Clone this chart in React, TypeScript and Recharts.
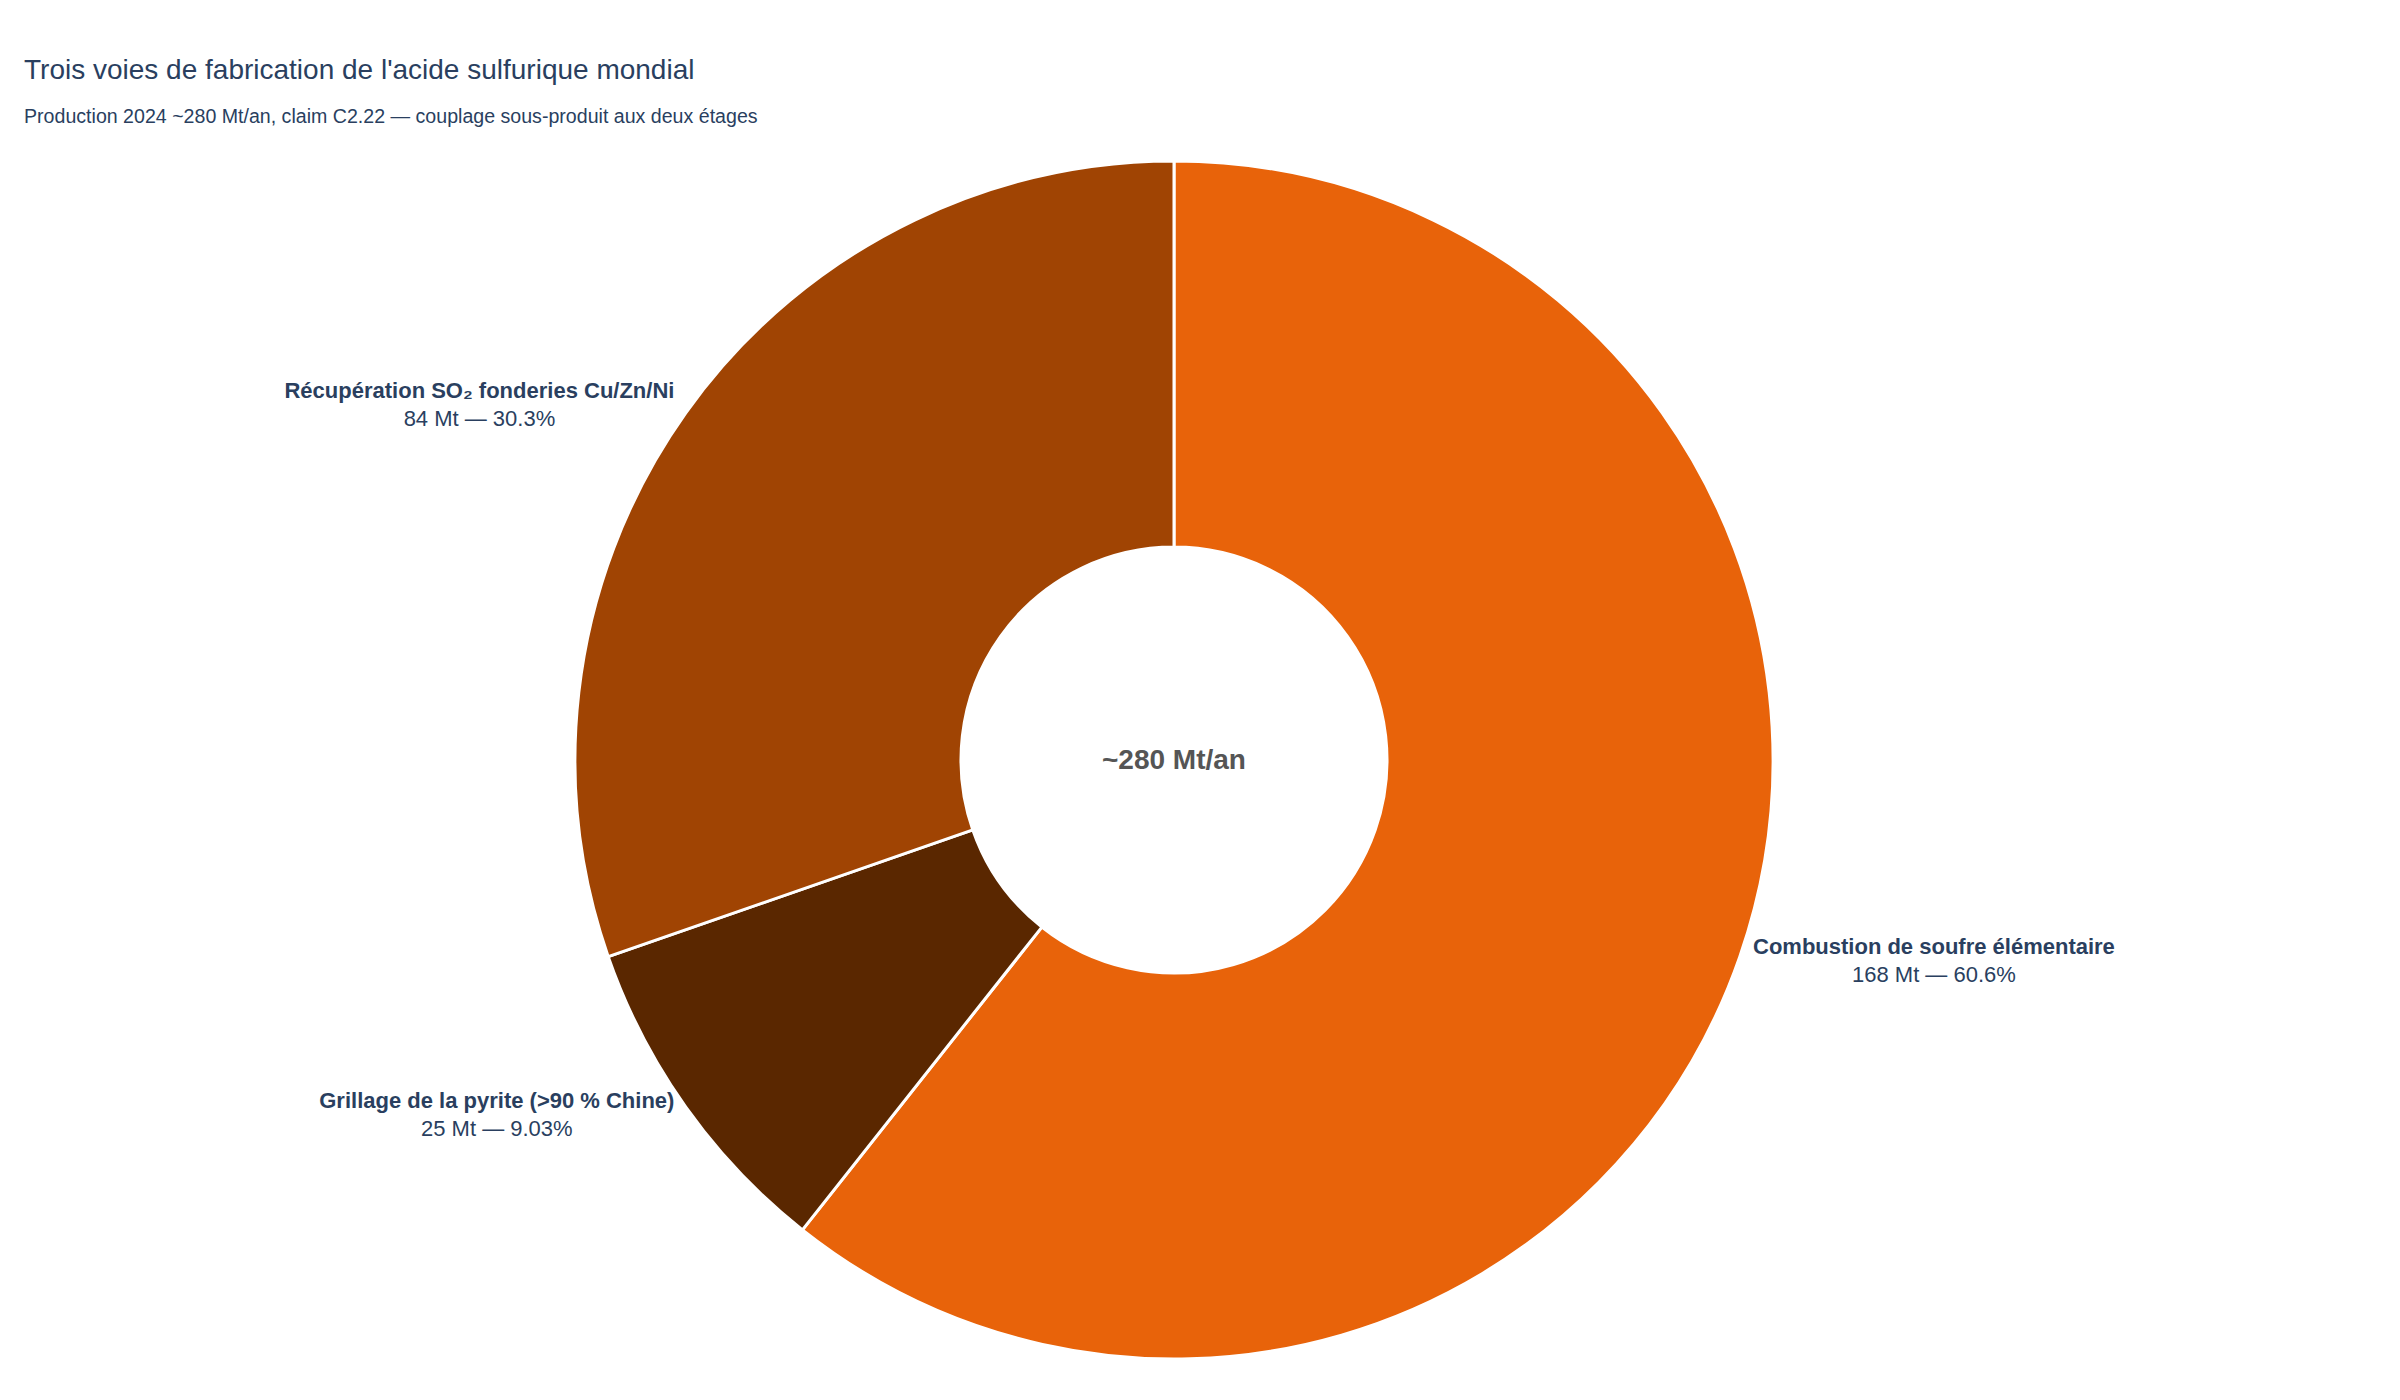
import { Pie, PieChart, Cell } from "recharts";

const routes = [
  "Combustion de soufre élémentaire",
  "Grillage de la pyrite (>90 % Chine)",
  "Récupération SO₂ fonderies Cu/Zn/Ni",
];
const volumesMt = [168, 25, 84];
const sliceColors = ["#e8630a", "#5a2700", "#a04403"];
const centerText = "~280 Mt/an";

const FONT = "'Liberation Sans', Arial, Helvetica, sans-serif";
const INK = "#2a3f5f";
const LABEL_SIZE = 22;
const PIE_CX = 1174;
const PIE_CY = 760;

const data = routes.map((name, i) => ({ name, value: volumesMt[i] }));
const total = volumesMt.reduce((a, b) => a + b, 0);

const RAD = Math.PI / 180;

let ctx: CanvasRenderingContext2D | null = null;
function measure(text: string, weight: string) {
  if (!ctx) ctx = document.createElement("canvas").getContext("2d");
  if (!ctx) return text.length * LABEL_SIZE * 0.55;
  ctx.font = `${weight} ${LABEL_SIZE}px ${FONT}`;
  return ctx.measureText(text).width;
}

function SliceLabel(props: any) {
  const { cx, cy, midAngle, outerRadius, name, value } = props;
  const r = outerRadius + 14;
  const cos = Math.cos(-midAngle * RAD);
  const sin = Math.sin(-midAngle * RAD);
  const edgeX = cx + r * cos;
  const y = cy + r * sin;
  const pct = ((value / total) * 100).toPrecision(3);
  const second = `${value} Mt — ${pct}%`;
  const w = Math.max(measure(name, "bold"), measure(second, "normal"));
  const x = cos >= 0 ? edgeX + w / 2 : edgeX - w / 2;
  return (
    <text x={x} y={y} textAnchor="middle" fill={INK} fontFamily={FONT} fontSize={LABEL_SIZE}>
      <tspan x={x} y={y - 7} fontWeight="bold">
        {name}
      </tspan>
      <tspan x={x} y={y + 21}>
        {second}
      </tspan>
    </text>
  );
}

export default function App() {
  return (
    <div
      style={{
        position: "absolute",
        left: 0,
        top: 0,
        width: 2400,
        height: 1400,
        background: "#fff",
      }}
    >
      <div
        style={{
          position: "absolute",
          left: 24,
          top: 54,
          fontFamily: FONT,
          fontSize: 28,
          color: INK,
          lineHeight: "32px",
          whiteSpace: "nowrap",
        }}
      >
        Trois voies de fabrication de l'acide sulfurique mondial
      </div>
      <div
        style={{
          position: "absolute",
          left: 24,
          top: 104,
          fontFamily: FONT,
          fontSize: 19.6,
          color: INK,
          lineHeight: "24px",
          whiteSpace: "nowrap",
        }}
      >
        Production 2024 ~280 Mt/an, claim C2.22 — couplage sous-produit aux deux étages
      </div>
      <PieChart width={2400} height={1400} margin={{ top: 0, right: 0, bottom: 0, left: 0 }}>
        <Pie
          data={data}
          dataKey="value"
          nameKey="name"
          cx={PIE_CX}
          cy={PIE_CY}
          innerRadius={213}
          outerRadius={599}
          startAngle={90}
          endAngle={-270}
          stroke="#ffffff"
          strokeWidth={3}
          label={SliceLabel}
          labelLine={false}
          isAnimationActive={false}
        >
          {data.map((d, i) => (
            <Cell key={d.name} fill={sliceColors[i]} />
          ))}
        </Pie>
      </PieChart>
      <div
        style={{
          position: "absolute",
          left: PIE_CX - 150,
          top: PIE_CY - 20,
          width: 300,
          textAlign: "center",
          fontFamily: FONT,
          fontSize: 28,
          fontWeight: "bold",
          color: "#555555",
          lineHeight: "40px",
        }}
      >
        {centerText}
      </div>
    </div>
  );
}
